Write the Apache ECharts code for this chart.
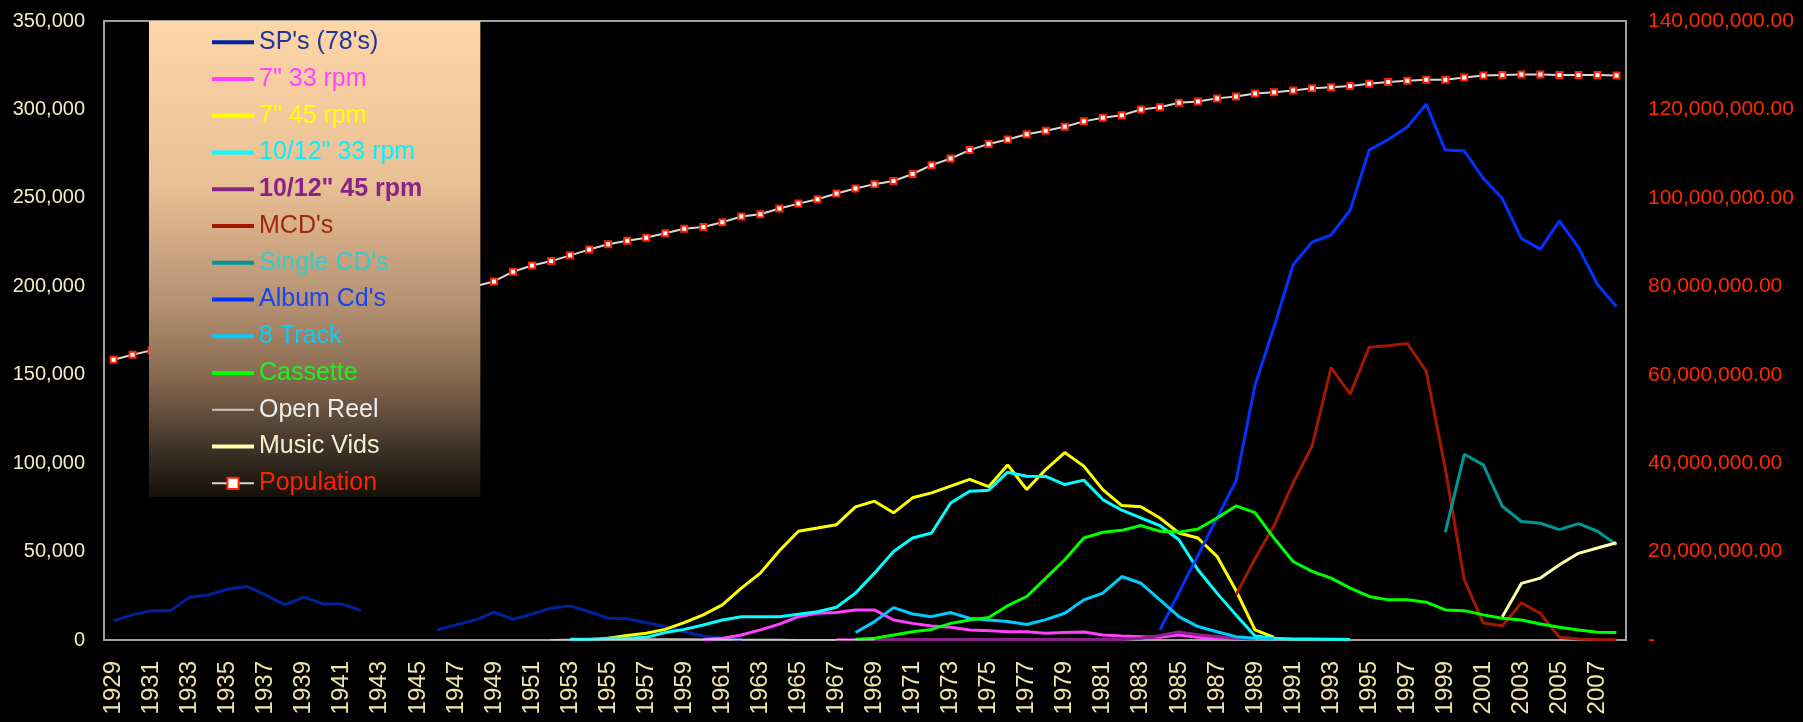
<!DOCTYPE html>
<html>
<head>
<meta charset="utf-8">
<script src="https://cdn.jsdelivr.net/npm/echarts@6/dist/echarts.min.js"></script>
<style>
html,body{margin:0;padding:0;background:#000;}
#chart{width:1803px;height:722px;}
</style>
</head>
<body>
<div id="chart"></div>
<script>
// ---- categories ----
const years = [];
for (let y = 1929; y <= 2008; y++) years.push(String(y));

// ---- series values (first year + values) ----
const spStart = 1929;
const spValues = [10800,14200,16600,16600,24200,25500,28700,30300,25500,19900,24200,20400,20400,16600,null,null,null,5700,8500,11300,15700,11700,14700,18000,19300,16000,12300,12000,9800,7600,4700,2300,1000,500];

const s733Start = 1960;
const s733Values = [300,1000,2800,5700,9000,13200,15100,15500,17000,17000,11300,9400,7900,7200,5700,5300,4700,4700,3800,4200,4500,2800,2300,1900,1500,2800,1500,1000,500];

const s745Start = 1955;
const s745Values = [1000,2500,3800,6000,9800,14200,19900,29300,37800,50500,61500,63300,65200,75300,78500,71900,80400,83200,87000,90800,86700,99000,85100,96400,106000,98300,85000,76000,75300,69000,60500,57700,47300,28000,5700,1500];

const l33Start = 1953;
const l33Values = [400,400,1000,1000,1500,4200,6000,8500,11300,13200,13200,13200,14600,16000,18500,26500,37800,50000,57700,60500,77500,84100,84700,94900,92600,92500,87900,90400,79400,73400,69000,64700,56700,39700,26500,14200,2300,1000,600,500,400,300];

const l45Start = 1967;
const l45Values = [300,300,300,300,300,300,300,300,300,300,300,300,300,300,300,300,1000,2500,4500,3000,2000,1000,500];

const mcdStart = 1988;
const mcdValues = [25500,46000,64700,88700,109700,154000,139000,165500,166400,167700,152000,97000,34000,9600,8000,21000,15000,1500,500,300,200];

const singleStart = 1999;
const singleValues = [60900,105000,99000,75600,67000,66000,62400,65800,61500,53900];

const albumStart = 1984;
const albumValues = [5700,26800,47800,69000,89800,144000,177000,212000,225000,229000,243000,277000,283000,290000,303000,277000,276500,261000,249600,227000,221000,237000,222000,201000,188500];

const trackStart = 1968;
const trackValues = [4200,10400,18300,14700,13200,15500,12300,11300,10400,8800,11500,15100,22700,26500,35900,32100,22700,13200,7600,4700,1900,1000,500];

const cassStart = 1968;
const cassValues = [400,1000,2800,4700,6000,9400,11300,12700,19400,24600,35000,45400,57700,60900,62000,64700,61500,61000,62800,69000,75800,72000,57600,44400,38800,35000,29300,24600,22700,22700,21400,17000,16600,14200,12300,11300,9100,7200,5700,4400,4300];

const reelStart = 1952;
const reelValues = [200,300,300,400,400,500,500,500,400,400,300,300,300,200,200,200,100,100];

const vidsStart = 2002;
const vidsValues = [13200,32000,35000,42500,49000,52000,55000];

const popStart = 1929;
const popValues = [63.4,64.5,65.5,66.4,67.4,68.3,69.3,70.1,70.6,71.0,71.4,71.9,72.2,72.9,73.9,74.4,75.0,76.5,78.1,80.0,81.1,83.3,84.7,85.7,87.0,88.3,89.5,90.3,91.0,92.0,93.0,93.4,94.5,95.8,96.3,97.6,98.7,99.7,101.0,102.1,103.1,103.8,105.4,107.4,108.9,110.8,112.2,113.2,114.4,115.2,116.1,117.3,118.1,118.7,120.0,120.5,121.5,121.8,122.5,122.9,123.6,123.9,124.3,124.8,125.0,125.3,125.8,126.2,126.5,126.7,126.7,127.2,127.7,127.8,127.9,127.9,127.8,127.8,127.8,127.7];

// ---- axis ticks ----
const leftTicks = [0,50000,100000,150000,200000,250000,300000,350000];
const rightTicks = [0,20000000,40000000,60000000,80000000,100000000,120000000,140000000];

function align(start, values, scale) {
  const out = years.map(() => null);
  values.forEach((v, i) => {
    const idx = start - 1929 + i;
    if (idx >= 0 && idx < out.length) out[idx] = (v === null ? null : v * (scale || 1));
  });
  return out;
}

const FONT = "'Liberation Sans', Arial, sans-serif";
const LINE_ICON = 'path://M0,0L42,0L42,4L0,4Z';
const THIN_ICON = 'path://M0,0L42,0L42,2L0,2Z';

const defs = [
  {name: "SP's (78's)", color: '#00229A', text: '#1E3796', start: spStart, values: spValues, width: 3},
  {name: '7" 33 rpm', color: '#FF40FF', text: '#FF44FF', start: s733Start, values: s733Values, width: 3},
  {name: '7" 45 rpm', color: '#FFFF00', text: '#FFFF00', start: s745Start, values: s745Values, width: 3},
  {name: '10/12" 33 rpm', color: '#00FFFF', text: '#00F2FF', start: l33Start, values: l33Values, width: 3},
  {name: '10/12" 45 rpm', color: '#8B2289', text: '#8B2289', start: l45Start, values: l45Values, width: 3, bold: true},
  {name: "MCD's", color: '#A11A00', text: '#A0260C', start: mcdStart, values: mcdValues, width: 3},
  {name: "Single CD's", color: '#009696', text: '#33CCCC', start: singleStart, values: singleValues, width: 3},
  {name: "Album Cd's", color: '#0033FF', text: '#1A44F0', start: albumStart, values: albumValues, width: 3},
  {name: '8 Track', color: '#00CCFF', text: '#14C8F5', start: trackStart, values: trackValues, width: 3},
  {name: 'Cassette', color: '#00FF00', text: '#22EE22', start: cassStart, values: cassValues, width: 3},
  {name: 'Open Reel', color: '#C8C8C8', text: '#EEEEEE', start: reelStart, values: reelValues, width: 1.5, thin: true},
  {name: 'Music Vids', color: '#FFFFAA', text: '#F4F2CC', start: vidsStart, values: vidsValues, width: 3}
];

const series = defs.map(d => ({
  name: d.name,
  type: 'line',
  yAxisIndex: 0,
  data: align(d.start, d.values),
  symbol: 'none',
  connectNulls: false,
  lineStyle: {color: d.color, width: d.width},
  itemStyle: {color: d.color},
  emphasis: {disabled: true},
  animation: false
}));

series.push({
  name: 'Population',
  type: 'line',
  yAxisIndex: 1,
  data: align(popStart, popValues, 1000000),
  symbol: 'rect',
  symbolSize: 6,
  lineStyle: {color: '#D8D8D8', width: 2},
  itemStyle: {color: '#FFFFFF', borderColor: '#FF2200', borderWidth: 2},
  emphasis: {disabled: true},
  animation: false
});

const legendData = defs.map(d => ({
  name: d.name,
  icon: d.thin ? THIN_ICON : LINE_ICON,
  itemStyle: {color: d.color},
  textStyle: {color: d.text, fontWeight: d.bold ? 'bold' : 'normal'}
}));
legendData.push({name: 'Population', textStyle: {color: '#FF2200'}});

const chart = echarts.init(document.getElementById('chart'));
chart.setOption({
  backgroundColor: '#000000',
  animation: false,
  textStyle: {fontFamily: FONT},
  grid: {
    left: 104, right: 177, top: 21, bottom: 82,
    show: true, borderColor: '#A0A0A0', borderWidth: 2, backgroundColor: 'transparent'
  },
  legend: {
    orient: 'vertical',
    left: 149,
    top: 21,
    z: 10,
    itemWidth: 42,
    itemHeight: 14,
    itemGap: 11.75,
    padding: [8.8, 58, 1.2, 62],
    symbolKeepAspect: true,
    backgroundColor: new echarts.graphic.LinearGradient(0, 0, 0, 1, [
      {offset: 0, color: '#FFD6A8'},
      {offset: 0.35, color: '#E8BE94'},
      {offset: 0.6, color: '#B39070'},
      {offset: 0.75, color: '#86694F'},
      {offset: 0.9, color: '#3E3228'},
      {offset: 1, color: '#141008'}
    ]),
    textStyle: {fontSize: 25, fontFamily: FONT},
    data: legendData,
    selectedMode: false
  },
  xAxis: {
    type: 'category',
    data: years,
    boundaryGap: true,
    axisLine: {lineStyle: {color: '#A0A0A0', width: 2}},
    axisTick: {show: false},
    axisLabel: {
      rotate: 90, interval: 1, margin: 21,
      color: '#ECE6A6', fontSize: 24, fontFamily: FONT
    },
    splitLine: {show: false}
  },
  yAxis: [{
    type: 'value',
    min: leftTicks[0], max: leftTicks[leftTicks.length - 1], interval: leftTicks[1] - leftTicks[0],
    axisLine: {show: true, lineStyle: {color: '#A0A0A0', width: 2}},
    axisTick: {show: false},
    splitLine: {show: false},
    axisLabel: {
      margin: 19, color: '#F2EDC0', fontSize: 20, fontFamily: FONT,
      formatter: v => v.toLocaleString('en-US')
    }
  }, {
    type: 'value',
    position: 'right',
    min: rightTicks[0], max: rightTicks[rightTicks.length - 1], interval: rightTicks[1] - rightTicks[0],
    axisLine: {show: true, lineStyle: {color: '#A0A0A0', width: 2}},
    axisTick: {show: false},
    splitLine: {show: false},
    axisLabel: {
      margin: 22, color: '#FF2A00', fontSize: 21, fontFamily: FONT,
      formatter: v => v === 0 ? '-' : v.toLocaleString('en-US', {minimumFractionDigits: 2, maximumFractionDigits: 2})
    }
  }],
  series: series
});
</script>
</body>
</html>
